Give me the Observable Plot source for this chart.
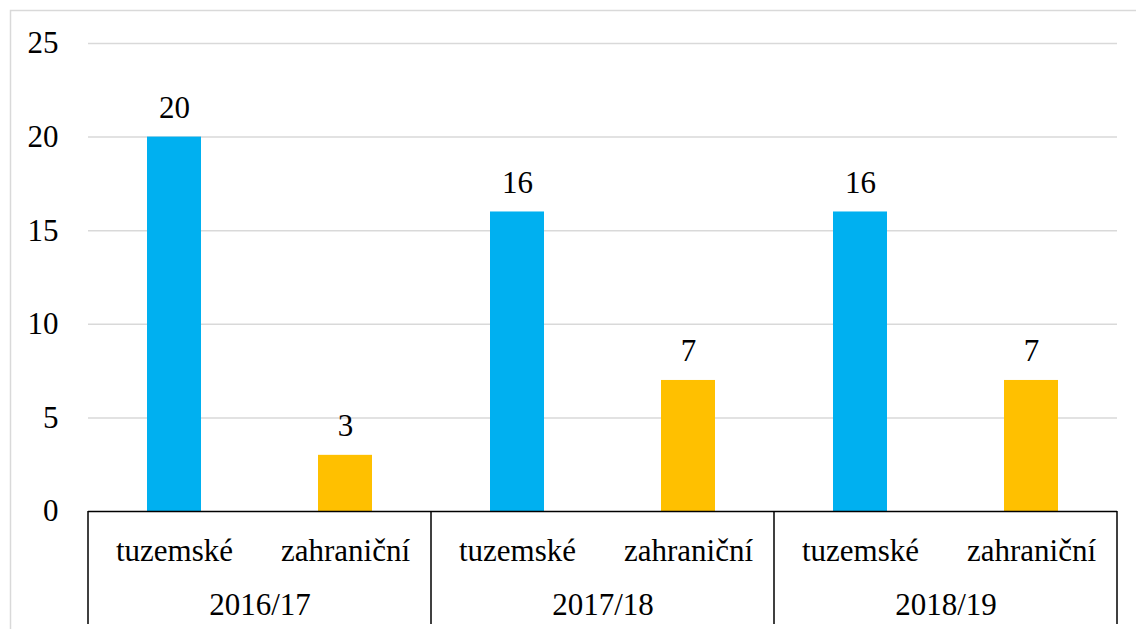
<!DOCTYPE html>
<html>
<head>
<meta charset="utf-8">
<script src="https://cdn.jsdelivr.net/npm/d3@7"></script>
<script src="https://cdn.jsdelivr.net/npm/@observablehq/plot@0.6"></script>
<style>
  html, body { margin: 0; padding: 0; background: #fff; overflow: hidden; }
</style>
</head>
<body>
<div id="chart"></div>
<script>
const years = ["2016/17", "2017/18", "2018/19"];
const categories = ["tuzemské", "zahraniční"];
const tuzemske = [20, 16, 16];
const zahranicni = [3, 7, 7];
const colors = ["#00B0F0", "#FFC000"];
const yTicks = [0, 5, 10, 15, 20, 25];

const data = years.flatMap((yr, i) => [
  {year: yr, cat: categories[0], value: tuzemske[i]},
  {year: yr, cat: categories[1], value: zahranicni[i]}
]);

const W = 1136, H = 629;
const FONT = "Liberation Serif, Times New Roman, serif";

const chart = Plot.plot({
  width: W,
  height: H,
  marginLeft: 88,
  marginRight: 19,
  marginTop: 43,
  marginBottom: 118,
  style: "font-family: 'Liberation Serif', 'Times New Roman', serif; font-size: 31px; color: #000; background: #fff;",
  fx: {domain: years, padding: 0, label: null},
  x: {domain: categories, paddingInner: 0.685, paddingOuter: 0.3425, label: null},
  y: {domain: [0, 25], label: null},
  color: {domain: categories, range: colors},
  marks: [
    Plot.ruleY(yTicks.filter(d => d > 0), {stroke: "#d9d9d9", strokeWidth: 1.5}),
    Plot.barY(data, {fx: "year", x: "cat", y: "value", fill: "cat"}),
    Plot.text(data, {fx: "year", x: "cat", y: "value", text: d => String(d.value), lineAnchor: "bottom", dy: -19, fill: "#000", fontSize: 31, fontFamily: FONT}),
    Plot.ruleY([0], {stroke: "#000", strokeWidth: 1.5}),
    Plot.axisY({ticks: yTicks, tickSize: 0, tickPadding: 30, label: null, fontSize: 31, fontFamily: FONT}),
    Plot.axisX({anchor: "bottom", tickSize: 0, tickPadding: 27, label: null, fontSize: 31, fontFamily: FONT}),
    Plot.axisFx({anchor: "bottom", tickSize: 0, tickPadding: 81, label: null, fontSize: 31, fontFamily: FONT})
  ]
});

document.getElementById("chart").appendChild(chart);

const svg = d3.select(chart);

// Group separators of the multi-level category axis, from the scales
const fx = chart.scale("fx");
const y = chart.scale("y");
const y0 = y.apply(0);
const edges = years.map(yr => fx.apply(yr)).concat([fx.apply(years[years.length - 1]) + fx.bandwidth]);
svg.append("g")
  .selectAll("line")
  .data(edges)
  .join("line")
  .attr("x1", d => d).attr("x2", d => d)
  .attr("y1", y0).attr("y2", H - 5)
  .attr("stroke", "#000").attr("stroke-width", 1.5);

// outer chart border
svg.append("path")
  .attr("d", `M10.5,${H + 5}V10.5H${W + 5}`)
  .attr("fill", "none").attr("stroke", "#d9d9d9").attr("stroke-width", 1.5);
</script>
</body>
</html>
